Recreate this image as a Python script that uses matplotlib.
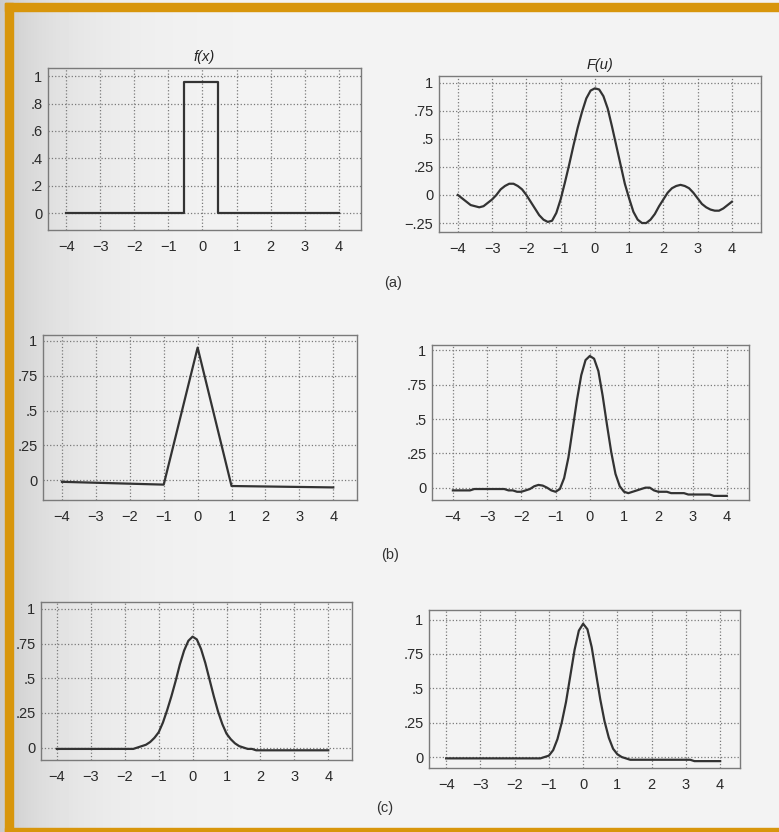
import numpy as np
import matplotlib
matplotlib.use('Agg')
import matplotlib.pyplot as plt
from matplotlib.patches import Rectangle

plt.rcParams['font.family'] = ['Liberation Sans', 'DejaVu Sans']

# values
x_ticks = [-4, -3, -2, -1, 0, 1, 2, 3, 4]
x_labels = ['\u22124', '\u22123', '\u22122', '\u22121', '0', '1', '2', '3', '4']

# sample positions used for the smooth curves (every 1/8)
u = [-4.0, -3.875, -3.75, -3.625, -3.5, -3.375, -3.25, -3.125,
     -3.0, -2.875, -2.75, -2.625, -2.5, -2.375, -2.25, -2.125,
     -2.0, -1.875, -1.75, -1.625, -1.5, -1.375, -1.25, -1.125,
     -1.0, -0.875, -0.75, -0.625, -0.5, -0.375, -0.25, -0.125,
     0.0, 0.125, 0.25, 0.375, 0.5, 0.625, 0.75, 0.875,
     1.0, 1.125, 1.25, 1.375, 1.5, 1.625, 1.75, 1.875,
     2.0, 2.125, 2.25, 2.375, 2.5, 2.625, 2.75, 2.875,
     3.0, 3.125, 3.25, 3.375, 3.5, 3.625, 3.75, 3.875, 4.0]

# (a) rectangular pulse and its transform
rect_x = [-4, -0.55, -0.55, 0.45, 0.45, 4]
rect_y = [0.0, 0.0, 0.96, 0.96, 0.0, 0.0]
sinc_y = [0.00, -0.03, -0.06, -0.09, -0.10, -0.11, -0.10, -0.07,
          -0.04, 0.00, 0.05, 0.08, 0.10, 0.10, 0.08, 0.05,
          0.00, -0.06, -0.12, -0.18, -0.22, -0.24, -0.23, -0.16,
          -0.04, 0.11, 0.27, 0.44, 0.60, 0.74, 0.86, 0.93,
          0.95, 0.94, 0.88, 0.77, 0.61, 0.44, 0.27, 0.10,
          -0.03, -0.15, -0.22, -0.25, -0.25, -0.22, -0.17, -0.10,
          -0.04, 0.02, 0.06, 0.08, 0.09, 0.08, 0.06, 0.02,
          -0.03, -0.08, -0.11, -0.13, -0.14, -0.14, -0.12, -0.09, -0.06]

# (b) triangle and its transform
tri_x = [-4, -1, 0, 1, 4]
tri_y = [-0.01, -0.03, 0.95, -0.04, -0.05]
sinc2_y = [-0.02, -0.02, -0.02, -0.02, -0.02, -0.01, -0.01, -0.01,
           -0.01, -0.01, -0.01, -0.01, -0.01, -0.02, -0.02, -0.03,
           -0.03, -0.02, -0.01, 0.01, 0.02, 0.015, 0.00, -0.02,
           -0.03, -0.01, 0.07, 0.22, 0.43, 0.64, 0.82, 0.93,
           0.96, 0.94, 0.85, 0.67, 0.46, 0.26, 0.10, 0.01,
           -0.03, -0.04, -0.03, -0.02, -0.01, 0.00, 0.00, -0.02,
           -0.03, -0.03, -0.03, -0.04, -0.04, -0.04, -0.04, -0.05,
           -0.05, -0.05, -0.05, -0.05, -0.05, -0.06, -0.06, -0.06, -0.06]

# (c) gaussian and its transform
gauss_y = [-0.01, -0.01, -0.01, -0.01, -0.01, -0.01, -0.01, -0.01,
           -0.01, -0.01, -0.01, -0.01, -0.01, -0.01, -0.01, -0.01,
           -0.01, -0.01, -0.01, 0.00, 0.01, 0.02, 0.04, 0.07,
           0.11, 0.18, 0.27, 0.37, 0.48, 0.60, 0.70, 0.77,
           0.80, 0.78, 0.71, 0.61, 0.49, 0.37, 0.26, 0.17,
           0.10, 0.06, 0.03, 0.01, 0.00, -0.01, -0.01, -0.02,
           -0.02, -0.02, -0.02, -0.02, -0.02, -0.02, -0.02, -0.02,
           -0.02, -0.02, -0.02, -0.02, -0.02, -0.02, -0.02, -0.02, -0.02]
gauss2_y = [-0.01, -0.01, -0.01, -0.01, -0.01, -0.01, -0.01, -0.01,
            -0.01, -0.01, -0.01, -0.01, -0.01, -0.01, -0.01, -0.01,
            -0.01, -0.01, -0.01, -0.01, -0.01, -0.01, -0.01, 0.00,
            0.01, 0.05, 0.13, 0.25, 0.40, 0.59, 0.78, 0.92,
            0.97, 0.93, 0.80, 0.61, 0.42, 0.26, 0.14, 0.06,
            0.02, 0.00, -0.01, -0.02, -0.02, -0.02, -0.02, -0.02,
            -0.02, -0.02, -0.02, -0.02, -0.02, -0.02, -0.02, -0.02,
            -0.02, -0.02, -0.03, -0.03, -0.03, -0.03, -0.03, -0.03, -0.03]

W, H = 779, 832
fig = plt.figure(figsize=(W / 100, H / 100), dpi=100)

# paper background: a little darker towards the binding on the left
bg = fig.add_axes([0, 0, 1, 1], zorder=-10)
cols = np.arange(W)
shade = 0.955 - 0.16 * np.exp(-cols / 70.0)
bg.imshow(np.tile(shade, (H, 1)), cmap='gray', vmin=0, vmax=1,
          aspect='auto', extent=[0, W, H, 0])
bg.set_xlim(0, W)
bg.set_ylim(H, 0)
bg.axis('off')
orange = '#D8960C'
bg.add_patch(Rectangle((5, 3), W - 5, 8, color=orange))
bg.add_patch(Rectangle((5, 3), 8, H - 3, color=orange))
bg.add_patch(Rectangle((5, 828), W - 5, 4, color=orange))


def make_axes(box, xlim, ylim, yticks, ylabels, title=None):
    # box is (left, top, right, bottom) in pixels
    l, t, r, b = box
    ax = fig.add_axes([l / W, 1 - b / H, (r - l) / W, (b - t) / H])
    ax.set_facecolor('none')
    ax.set_xlim(*xlim)
    ax.set_ylim(*ylim)
    ax.set_xticks(x_ticks)
    ax.set_xticklabels(x_labels)
    ax.set_yticks(yticks)
    ax.set_yticklabels(ylabels)
    ax.tick_params(length=0, labelsize=10.5, colors='#2a2a2a')
    ax.tick_params(axis='x', pad=7)
    ax.tick_params(axis='y', pad=4)
    ax.grid(True, linestyle=':', color='#7a7a7a', linewidth=0.9)
    for s in ax.spines.values():
        s.set_color('#7a7a7a')
        s.set_linewidth(1.0)
    if title:
        ax.set_title(title, fontsize=10.5, style='italic', pad=5, color='#222222')
    return ax


line_kw = dict(color='#333333', linewidth=1.6)

ax = make_axes((48, 68, 361, 230), (-4.53, 4.65), (-0.124, 1.06),
               [0, 0.2, 0.4, 0.6, 0.8, 1], ['0', '.2', '.4', '.6', '.8', '1'],
               'f(x)')
ax.plot(rect_x, rect_y, **line_kw)

ax = make_axes((439, 76, 761, 232), (-4.55, 4.85), (-0.33, 1.06),
               [-0.25, 0, 0.25, 0.5, 0.75, 1],
               ['\u2212.25', '0', '.25', '.5', '.75', '1'], 'F(u)')
ax.plot(u, sinc_y, **line_kw)

yt = [0, 0.25, 0.5, 0.75, 1]
yl = ['0', '.25', '.5', '.75', '1']

ax = make_axes((43, 335, 357, 500), (-4.56, 4.7), (-0.14, 1.04), yt, yl)
ax.plot(tri_x, tri_y, **line_kw)

ax = make_axes((432, 345, 749, 500), (-4.61, 4.65), (-0.09, 1.04), yt, yl)
ax.plot(u, sinc2_y, **line_kw)

ax = make_axes((41, 602, 352, 760), (-4.47, 4.7), (-0.09, 1.05), yt, yl)
ax.plot(u, gauss_y, **line_kw)

ax = make_axes((429, 610, 740, 768), (-4.5, 4.58), (-0.08, 1.07), yt, yl)
ax.plot(u, gauss2_y, **line_kw)

for lab, (px, py) in [('(a)', (393, 283)), ('(b)', (390, 555)), ('(c)', (385, 808))]:
    fig.text(px / W, 1 - py / H, lab, ha='center', va='center',
             fontsize=10.5, color='#333333')

fig.savefig('out.png', dpi=100)
